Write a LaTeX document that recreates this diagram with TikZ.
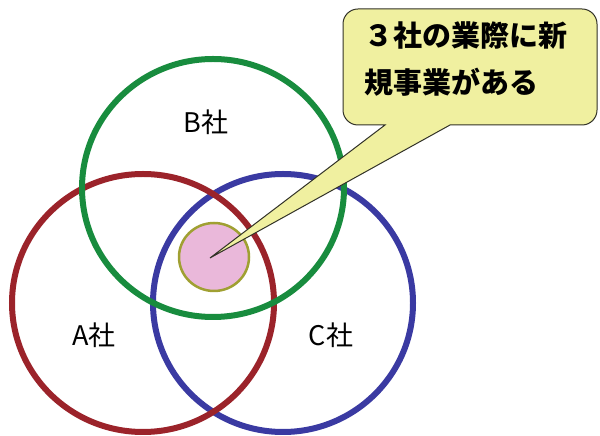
\documentclass[tikz,border=0pt]{standalone}
\usepackage{fontspec}
\newfontfamily\cjk{Noto Sans CJK JP}
\definecolor{cgreen}{RGB}{24,140,62}
\definecolor{cred}{RGB}{155,35,42}
\definecolor{cblue}{RGB}{58,58,162}
\definecolor{cpink}{RGB}{234,184,218}
\definecolor{colive}{RGB}{160,160,50}
\definecolor{cyell}{RGB}{240,240,160}
\definecolor{cborder}{RGB}{50,50,40}
\tikzset{
  ring/.style={line width=6pt},
  lbl/.style={font=\cjk\fontsize{27}{30}\selectfont, inner sep=0pt},
  calltext/.style={font=\cjk\bfseries\fontsize{29}{47}\selectfont, inner sep=0pt, align=left, anchor=north west},
  callout/.style={fill=cyell, draw=cborder, line width=1pt}
}
\begin{document}
\begin{tikzpicture}[x=1pt,y=1pt]
\useasboundingbox[fill=white] (0,0) rectangle (600,436);
% circles
\draw[ring, cblue] (283,133) ellipse [x radius=130, y radius=129];
\draw[ring, cred] (143,133) ellipse [x radius=131, y radius=129];
\draw[ring, cgreen] (213,248) ellipse [x radius=131, y radius=129];
% centre circle
\draw[fill=cpink, draw=colive, line width=2.5pt] (214,179) ellipse [x radius=35, y radius=34];
% labels
\node[lbl] (B) at (206,314) {B社};
\node[lbl] (A) at (94,101) {A社};
\node[lbl] (C) at (331,101) {C社};
% callout
\coordinate (tip) at (210,178);
\draw[callout] (385,311) -- (tip) -- (450,311) -- (582,311)
  arc[start angle=270, end angle=360, radius=15] -- (597,412)
  arc[start angle=0, end angle=90, radius=15] -- (358,427)
  arc[start angle=90, end angle=180, radius=15] -- (343,326)
  arc[start angle=180, end angle=270, radius=15] -- cycle;
\node[calltext] (T) at (364,415) {３社の業際に新\\規事業がある};
\end{tikzpicture}
\end{document}
